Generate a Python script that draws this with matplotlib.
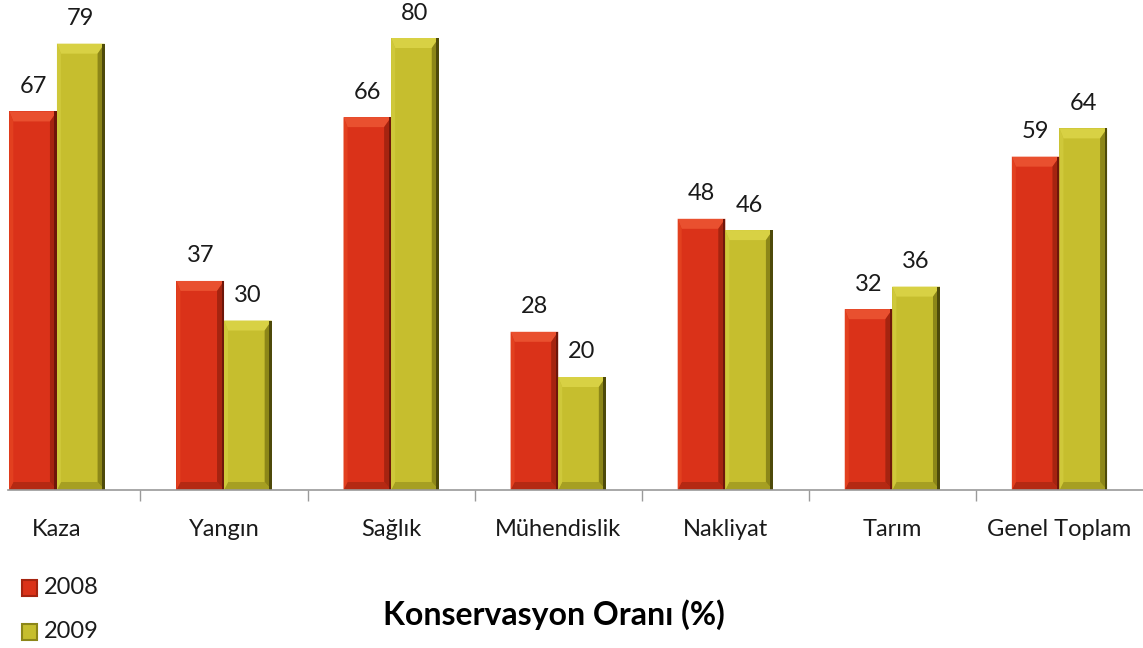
import matplotlib
matplotlib.use('Agg')
import matplotlib.pyplot as plt
from matplotlib.patches import Polygon, Rectangle
import numpy as np

plt.rcParams['font.family'] = ['Lato', 'DejaVu Sans']

# Data
categories = ['Kaza', 'Yangın', 'Sağlık', 'Mühendislik', 'Nakliyat', 'Tarım', 'Genel Toplam']
series_names = ['2008', '2009']
values_2008 = [67, 37, 66, 28, 48, 32, 59]
values_2009 = [79, 30, 80, 20, 46, 36, 64]
title = 'Konservasyon Oranı (%)'

W, H = 1143, 648
fig = plt.figure(figsize=(W / 100, H / 100), dpi=100)
ax = fig.add_axes([8 / W, (H - 490) / H, (W - 8) / W, 490 / H])

ymax = 490 / 5.65
ax.set_xlim(-0.293, 6.5)
ax.set_ylim(0, ymax)

x = np.arange(len(categories))
bw = 0.285

styles = {
    '2008': dict(face='#DA3219', top='#E9502F', left='#E2401F', right='#A52410',
                 edge='#6E160A', bottom='#B42913'),
    '2009': dict(face='#C6BE2E', top='#D8D144', left='#CFC83A', right='#8C8618',
                 edge='#4E4A0A', bottom='#A69F22'),
}

# px per data unit
px_x = (W - 8) / (6.5 + 0.293)
px_y = 490 / ymax
dy = 10 / px_y
dxl = 4 / px_x
dxr = 7 / px_x
dxe = 2.5 / px_x

for vals, name, off in [(values_2008, '2008', -bw / 2), (values_2009, '2009', bw / 2)]:
    st = styles[name]
    bars = ax.bar(x + off, vals, width=bw, color=st['face'], edgecolor='none', zorder=2)
    for b in bars:
        x0, w, h = b.get_x(), b.get_width(), b.get_height()
        x1, y1 = x0 + w, h
        d = min(dy, h / 2)
        db = d * 0.8
        # bottom bevel
        ax.add_patch(Polygon([(x0, 0), (x1, 0), (x1 - dxr, db), (x0 + dxl, db)],
                             closed=True, color=st['bottom'], lw=0, zorder=3))
        # top bevel
        ax.add_patch(Polygon([(x0, y1), (x1, y1), (x1 - dxr, y1 - d), (x0 + dxl, y1 - d)],
                             closed=True, color=st['top'], lw=0, zorder=3))
        # left bevel
        ax.add_patch(Polygon([(x0, y1), (x0 + dxl, y1 - d), (x0 + dxl, db), (x0, 0)],
                             closed=True, color=st['left'], lw=0, zorder=3))
        # right bevel
        ax.add_patch(Polygon([(x1, y1), (x1 - dxr, y1 - d), (x1 - dxr, db), (x1, 0)],
                             closed=True, color=st['right'], lw=0, zorder=3))
        ax.add_patch(Rectangle((x1 - dxe, 0), dxe, y1, color=st['edge'], lw=0, zorder=4))
        ax.text(x0 + w / 2, h + 25 / px_y, f'{h:g}', ha='center', va='center',
                fontsize=17, color='#1a1a1a')

# axes styling
for s in ['top', 'right', 'left']:
    ax.spines[s].set_visible(False)
ax.spines['bottom'].set_color('#9a9a9a')
ax.spines['bottom'].set_linewidth(1.2)
ax.spines['bottom'].set_zorder(5)
ax.set_yticks([])
ax.set_xticks(np.arange(0.5, 6, 1))
ax.set_xticklabels([])
ax.tick_params(axis='x', length=8, color='#9a9a9a', width=1)
ax.patch.set_visible(False)

for xi, c in zip(x, categories):
    ax.text(xi, -40 / px_y, c, ha='center', va='center', fontsize=17, color='#1a1a1a',
            clip_on=False)

# legend
for i, name in enumerate(series_names):
    yy = (H - 588 - 44 * i) / H
    st = styles[name]
    fig.patches.append(Rectangle((22 / W, yy - 8 / H), 15 / W, 16 / H,
                                 transform=fig.transFigure, facecolor=st['face'],
                                 edgecolor=st['right'], lw=1.5))
    fig.text(44 / W, yy, name, ha='left', va='center', fontsize=17, color='#1a1a1a')

fig.text(554 / W, (H - 615) / H, title, ha='center', va='center', fontsize=23,
         fontweight='bold', color='#000000')

fig.savefig('out.png', dpi=100)
